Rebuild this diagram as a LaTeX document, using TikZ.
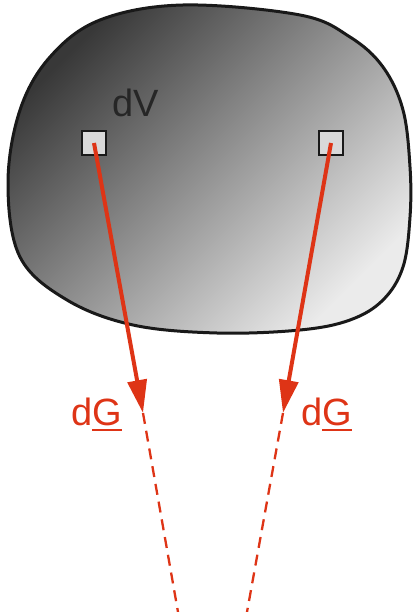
\documentclass[tikz,border=0pt]{standalone}
\usepackage{fontspec}
\setmainfont{Liberation Sans}
\usetikzlibrary{arrows.meta, positioning}
\definecolor{vecred}{RGB}{222,52,22}
\newcommand{\ulvec}[1]{\setbox0\hbox{#1}\rlap{\rule[-6pt]{\wd0}{2pt}}\box0}

\begin{document}
\begin{tikzpicture}[x=1pt, y=-1pt,
      body/.style={draw=black!90, line width=3pt, top color=black!78,
                   bottom color=black!8, shading angle=45},
      elem/.style={draw=black!90, line width=2.2pt, fill=black!15,
                   minimum size=24pt, inner sep=0pt},
      arr/.style={-{Triangle[length=33pt, width=19pt]}, line width=4pt, vecred},
      ext/.style={vecred, line width=2.3pt, dash pattern=on 11pt off 7pt},
      lbl/.style={font=\fontsize{38}{46}\selectfont, inner sep=0pt, anchor=base west}]

    \useasboundingbox (0,0) rectangle (412,612);

    % ---- Layout ----
    \def\ey{143}      % volume elements y
    \def\ty{413}      % arrow tips y

    % ---- body ----
    \draw[body] plot[smooth cycle, tension=0.6] coordinates {
        (183,5) (300,15) (350,37) (383,67) (403,110) (410,167) (410,217)
        (403,267) (383,300) (350,320) (300,330) (217,333) (133,325)
        (67,300) (20,257) (8,183) (20,110) (50,57) (100,20)};

    % ---- volume elements ----
    \node[elem] (dvL) at (94, \ey)  {};
    \node[elem] (dvR) at (331, \ey) {};
    \node[lbl, text=black!85] (dV) at (112, 117) {dV};

    % ---- force vectors ----
    \coordinate (tipL) at (143, \ty);
    \coordinate (tipR) at (283, \ty);
    \coordinate (endL) at (178, 612);
    \coordinate (endR) at (247, 612);

    \draw[ext] (tipL) -- (endL);
    \draw[ext] (tipR) -- (endR);
    \draw[arr] (dvL.center) -- (tipL);
    \draw[arr] (dvR.center) -- (tipR);

    \node[lbl, text=vecred] (dGL) at (71, 425)  {d\ulvec{G}};
    \node[lbl, text=vecred] (dGR) at (301, 425) {d\ulvec{G}};

\end{tikzpicture}
\end{document}
